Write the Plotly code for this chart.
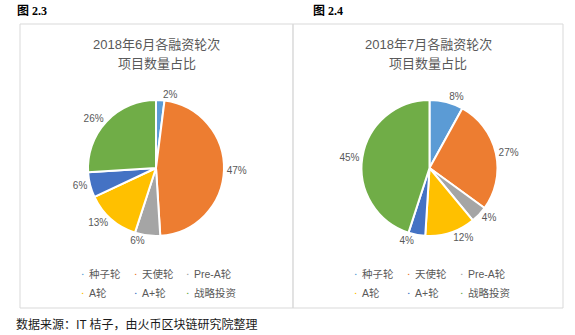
import plotly.graph_objects as go

categories = ["种子轮", "天使轮", "Pre-A轮", "A轮", "A+轮", "战略投资"]
june_values = [2, 47, 6, 13, 6, 26]
july_values = [8, 27, 4, 12, 4, 45]
colors = ["#5B9BD5", "#ED7D31", "#A5A5A5", "#FFC000", "#4472C4", "#70AD47"]
june_title = ["2018年6月各融资轮次", "项目数量占比"]
july_title = ["2018年7月各融资轮次", "项目数量占比"]
fig_labels = ["图 2.3", "图 2.4"]
source_text = "数据来源：IT 桔子，由火币区块链研究院整理"

W, H = 575, 335
CJK = "Liberation Sans, Noto Sans CJK SC"
GRAY = "#595959"

def px(x):
    return x / W

def py(y):
    return 1 - y / H

fig = go.Figure()

panels = [
    dict(values=june_values, title=june_title, cx=156, cy=168, r=68, box=(20, 293), fig=fig_labels[0], figx=15,
         legx=[83, 136, 188]),
    dict(values=july_values, title=july_title, cx=429.5, cy=168, r=68, box=(293, 563), fig=fig_labels[1], figx=311,
         legx=[356, 409, 462]),
]

for p in panels:
    fig.add_trace(go.Pie(
        labels=categories,
        values=p["values"],
        sort=False,
        direction="clockwise",
        rotation=0,
        marker=dict(colors=colors, line=dict(color="white", width=2)),
        texttemplate="%{value}%",
        textposition="outside",
        outsidetextfont=dict(size=10, color=GRAY, family=CJK),
        showlegend=False,
        hoverinfo="label+value",
        domain=dict(x=[px(p["cx"] - p["r"]), px(p["cx"] + p["r"])],
                    y=[py(p["cy"] + p["r"]), py(p["cy"] - p["r"])]),
    ))

annotations = []
shapes = []
for p in panels:
    x0, x1 = p["box"]
    shapes.append(dict(type="rect", xref="paper", yref="paper",
                       x0=px(x0), x1=px(x1), y0=py(308), y1=py(24),
                       line=dict(color="#D9D9D9", width=1)))
    mid = (x0 + x1) / 2
    for i, (line, yy) in enumerate(zip(p["title"], [45, 63])):
        annotations.append(dict(text=line, x=px(mid), y=py(yy), xref="paper", yref="paper",
                                xanchor="center", yanchor="middle", showarrow=False,
                                font=dict(size=13, color=GRAY, family=CJK)))
    annotations.append(dict(text="<b>" + p["fig"] + "</b>", x=px(p["figx"]), y=py(11), xref="paper", yref="paper",
                            xanchor="left", yanchor="middle", showarrow=False,
                            font=dict(size=12, color="#000000", family="Liberation Serif, Noto Sans CJK SC")))
    for k, cat in enumerate(categories):
        row, col = divmod(k, 3)
        yy = [274, 293][row]
        xx = p["legx"][col]
        annotations.append(dict(text="▪", x=px(xx), y=py(yy), xref="paper", yref="paper",
                                xanchor="center", yanchor="middle", showarrow=False,
                                font=dict(size=5, color=colors[k], family=CJK)))
        annotations.append(dict(text=cat, x=px(xx + 4), y=py(yy), xref="paper", yref="paper",
                                xanchor="left", yanchor="middle", showarrow=False,
                                font=dict(size=10.5, color=GRAY, family=CJK)))

annotations.append(dict(text=source_text, x=px(14), y=py(323), xref="paper", yref="paper",
                        xanchor="left", yanchor="middle", showarrow=False,
                        font=dict(size=12, color="#1a1a1a", family="Noto Sans CJK SC")))

fig.update_layout(
    width=W, height=H,
    margin=dict(l=0, r=0, t=0, b=0),
    paper_bgcolor="white", plot_bgcolor="white",
    annotations=annotations, shapes=shapes,
)

fig.write_html("out.html")
